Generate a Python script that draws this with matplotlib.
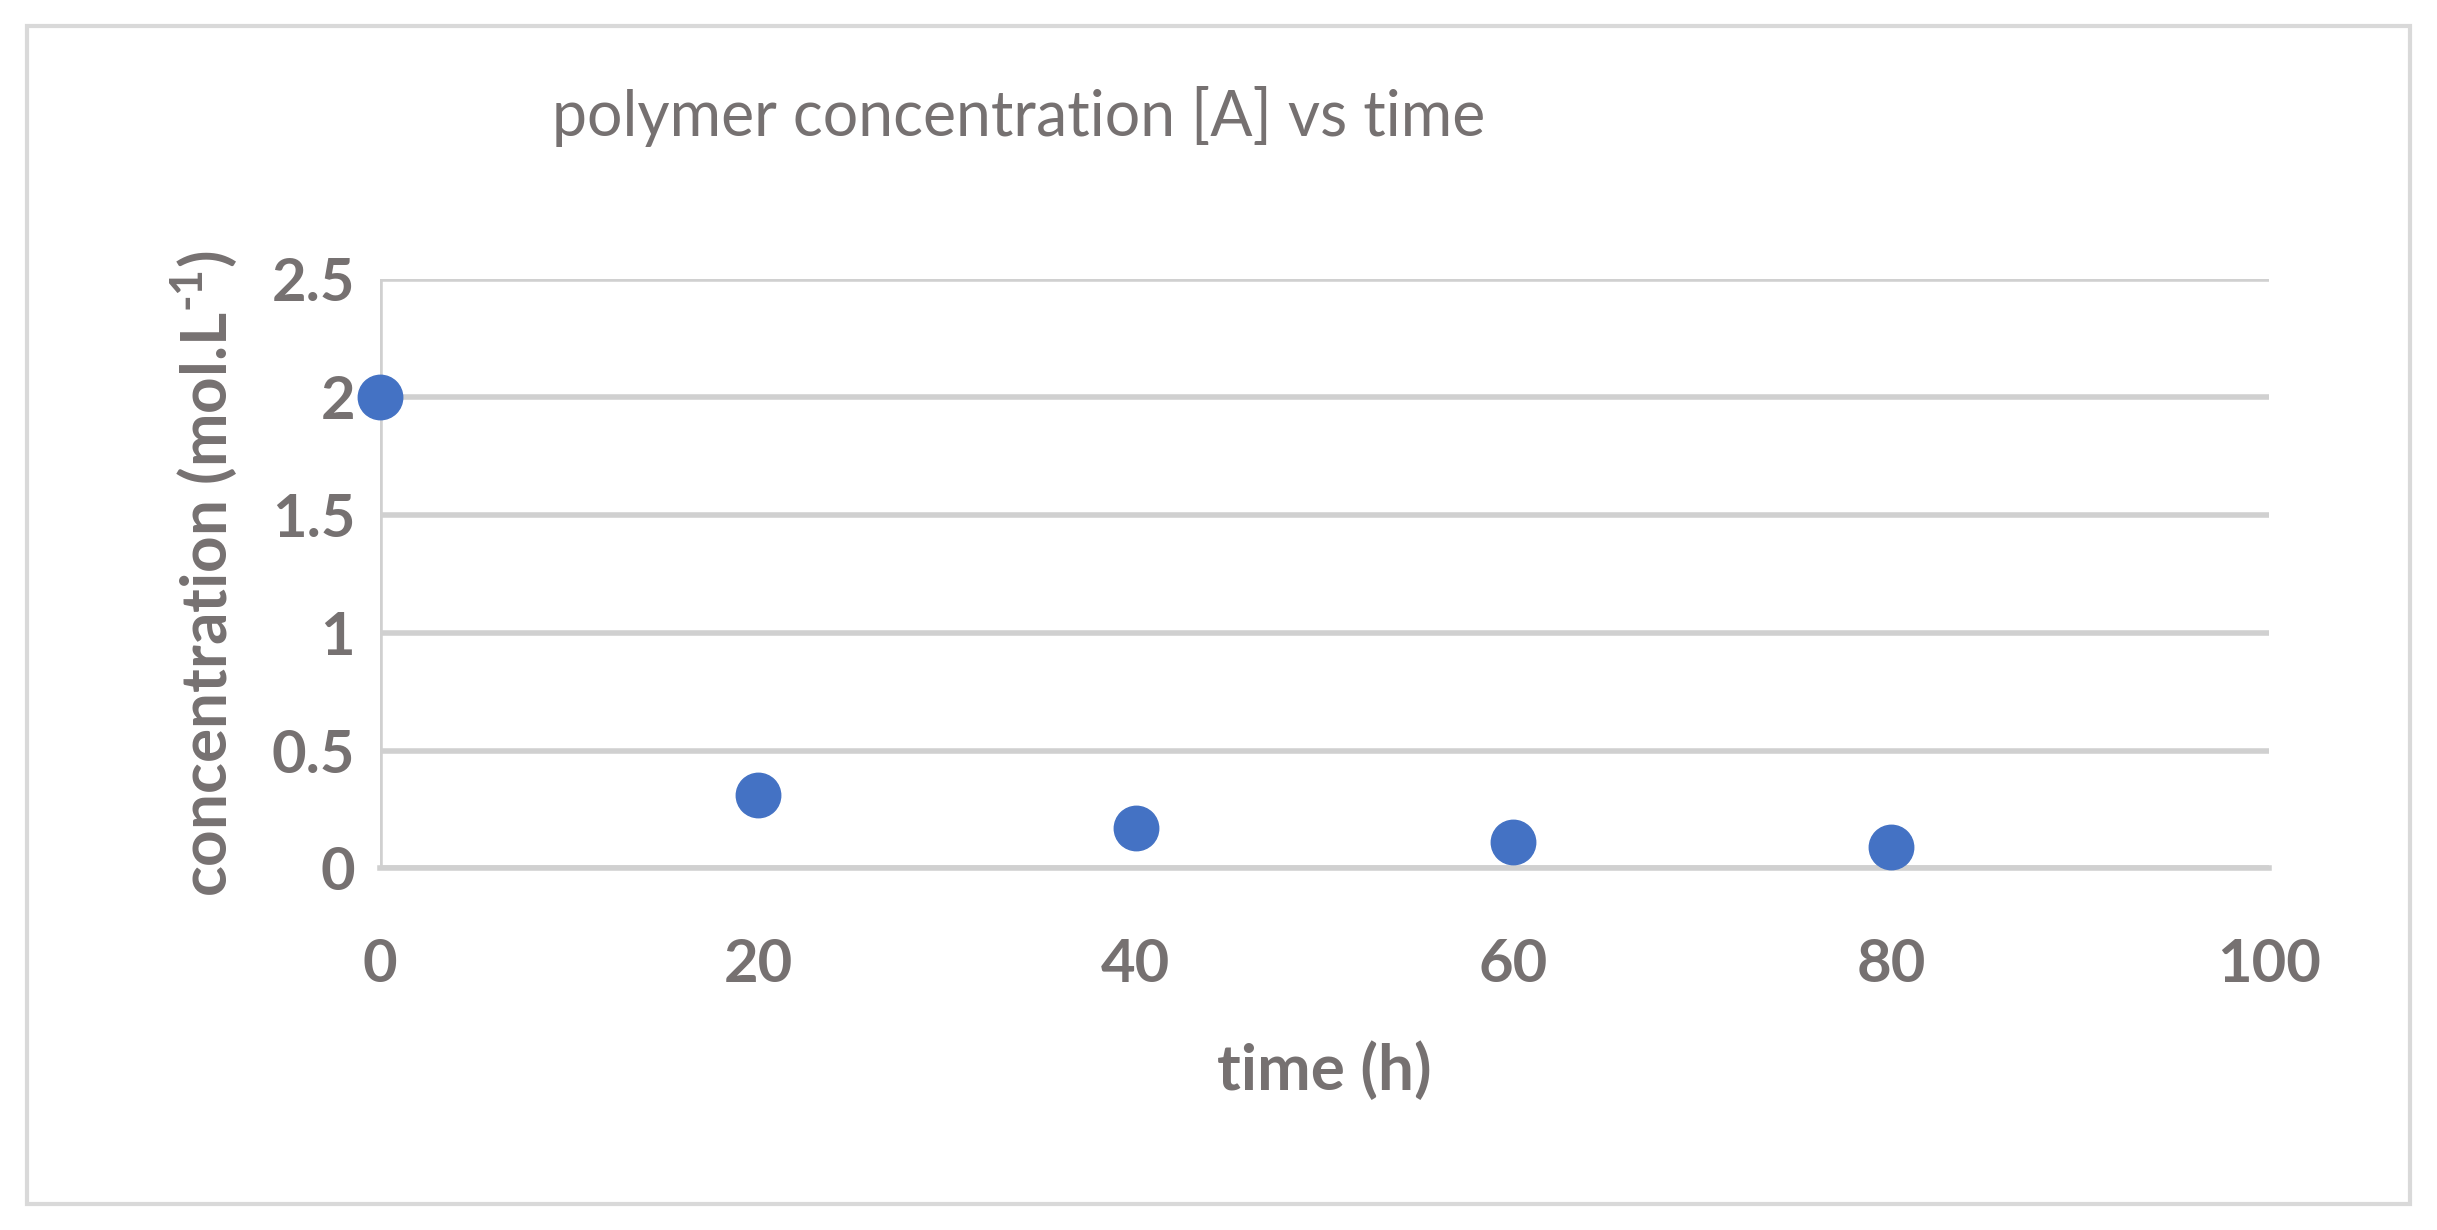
import matplotlib
matplotlib.use("Agg")
import matplotlib.pyplot as plt
from matplotlib.patches import Rectangle

time_h = [0, 20, 40, 60, 80]
conc = [2.0, 0.31, 0.17, 0.11, 0.09]
xticks = [0, 20, 40, 60, 80, 100]
yticks = [0, 0.5, 1, 1.5, 2, 2.5]
ytick_labels = ["0", "0.5", "1", "1.5", "2", "2.5"]

plt.rcParams['font.family'] = ['Lato', 'DejaVu Sans']
plt.rcParams['mathtext.fontset'] = 'custom'
plt.rcParams['mathtext.rm'] = 'Lato:bold'
plt.rcParams['mathtext.bf'] = 'Lato:bold'
gray = '#767171'
grid_c = '#d0d0d0'
fig = plt.figure(figsize=(24.37, 12.30), dpi=100)
fig.patches.append(Rectangle((0.011, 0.021), 0.978, 0.958, transform=fig.transFigure,
                             fill=False, edgecolor='#d9d9d9', linewidth=3))
ax = fig.add_axes([0.156, 0.294, 0.775, 0.479])
ax.plot(time_h, conc, 'o', color='#4472c4', markersize=32, clip_on=False, zorder=3)
ax.set_xlim(0, 100)
ax.set_ylim(0, 2.5)
ax.set_xticks(xticks)
ax.set_yticks(yticks)
ax.set_yticklabels(ytick_labels)
ax.grid(axis='y', color=grid_c, linewidth=4)
ax.set_axisbelow(True)
for s in ['top', 'right', 'left']:
    ax.spines[s].set_visible(False)
ax.spines['bottom'].set_color(grid_c)
ax.spines['bottom'].set_linewidth(4)
ax.axvline(0, color=grid_c, linewidth=4, zorder=1)
ax.tick_params(length=0, labelsize=43, labelcolor=gray)
ax.tick_params(axis='x', pad=50)
ax.tick_params(axis='y', pad=18)
for t in ax.get_xticklabels() + ax.get_yticklabels():
    t.set_fontweight('bold')
ax.set_xlabel('time (h)', fontsize=46, fontweight='bold', color=gray, labelpad=35)
ax.set_ylabel(r'concentration (mol.L$^{\text{-}1}$)', fontsize=46, fontweight='bold',
              color=gray, labelpad=22)
fig.text(0.418, 0.905, 'polymer concentration [A] vs time', fontsize=45, color=gray,
         ha='center', va='center')
fig.savefig('out.png', dpi=100, facecolor='white')
